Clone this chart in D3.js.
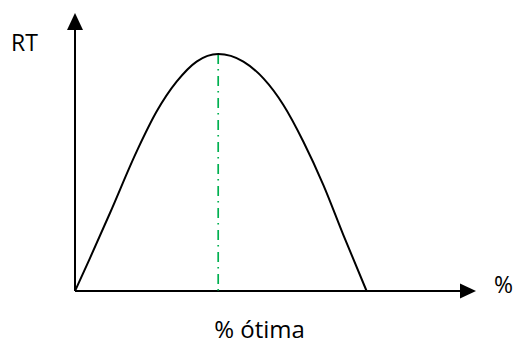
<!DOCTYPE html>
<html>
<head>
<meta charset="utf-8">
<script src="https://cdn.jsdelivr.net/npm/d3@7"></script>
<style>
  html, body { margin: 0; padding: 0; background: #fff; }
  svg { display: block; }
  text { font-family: "Open Sans", "Noto Sans", sans-serif; fill: #000; }
</style>
</head>
<body>
<svg id="chart" width="519" height="345"></svg>
<script>
// curve (x = %, y = RT, peak = 100)
const curveX = [0, 3.75, 8.75, 15.4, 20.4, 25.4, 30.4, 35.8, 42.1, 47.1, 52.1, 57.1, 62.1, 67.1, 72.9];
const curveY = [0, 13.9, 32.9, 58.8, 75.7, 88.3, 96.8, 100, 96.8, 89.7, 78.5, 63.0, 44.7, 23.6, 0];
const optimumX = [35.8];
const yLabel = 'RT';
const xLabel = '%';
const optimumLabel = '% ótima';

const svg = d3.select('#chart');
const origin = { x: 75, y: 291 };

const xScale = d3.scaleLinear().domain([0, 100]).range([origin.x, 475]);
const yScale = d3.scaleLinear().domain([0, 100]).range([origin.y, 54]);

const points = curveX.map((x, i) => ({ x, y: curveY[i] }));

// Axes with arrowheads
svg.append('line')
  .attr('x1', origin.x).attr('y1', origin.y)
  .attr('x2', origin.x).attr('y2', 28)
  .attr('stroke', '#000').attr('stroke-width', 2);
svg.append('path')
  .attr('d', `M${origin.x},13 L${origin.x - 8},30 L${origin.x + 8},30 Z`)
  .attr('fill', '#000');

svg.append('line')
  .attr('x1', origin.x).attr('y1', origin.y)
  .attr('x2', 462).attr('y2', origin.y)
  .attr('stroke', '#000').attr('stroke-width', 2);
svg.append('path')
  .attr('d', `M476,${origin.y} L460,${origin.y - 7.5} L460,${origin.y + 7.5} Z`)
  .attr('fill', '#000');

// Dash-dot line at the optimum
svg.selectAll('.opt')
  .data(optimumX)
  .join('line')
  .attr('class', 'opt')
  .attr('x1', d => xScale(d)).attr('x2', d => xScale(d))
  .attr('y1', yScale(100)).attr('y2', origin.y)
  .attr('stroke', '#00b050')
  .attr('stroke-width', 1.7)
  .attr('stroke-dasharray', '10,5,1.5,5.5');

// Curve
const line = d3.line()
  .x(d => xScale(d.x))
  .y(d => yScale(d.y))
  .curve(d3.curveMonotoneX);

svg.append('path')
  .datum(points)
  .attr('d', line)
  .attr('fill', 'none')
  .attr('stroke', '#000')
  .attr('stroke-width', 2);

// Labels
svg.append('text').attr('x', 11).attr('y', 51)
  .style('font-size', '23px').text(yLabel);
svg.append('text').attr('x', 494).attr('y', 293)
  .style('font-size', '23px').text(xLabel);
svg.append('text').attr('x', xScale(optimumX[0]) - 4).attr('y', 338)
  .style('font-size', '24px').text(optimumLabel);
</script>
</body>
</html>
